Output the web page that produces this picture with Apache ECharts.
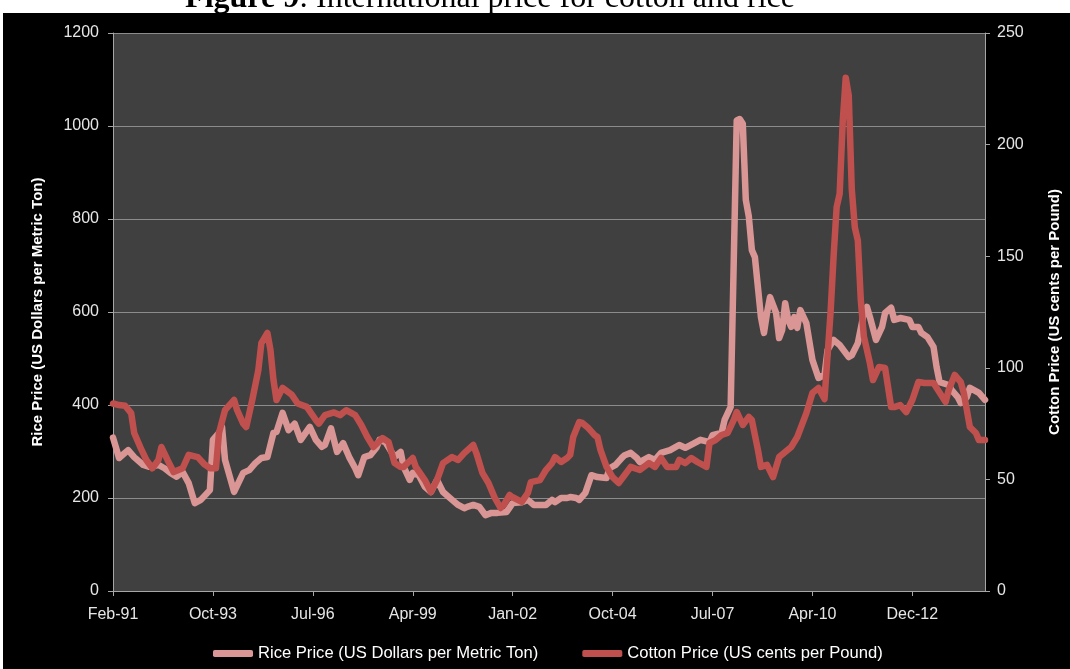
<!DOCTYPE html>
<html>
<head>
<meta charset="utf-8">
<title>International price for cotton and rice</title>
<script src="https://cdn.jsdelivr.net/npm/echarts@6/dist/echarts.min.js"></script>
<style>
  html, body { margin: 0; padding: 0; background: #fff; }
  #main { width: 1070px; height: 669px; }
</style>
</head>
<body>
<div id="main"></div>
<script>
// tick labels on the month axis, one every 33 months from Feb-91
var xTickLabels = ['Feb-91', 'Oct-93', 'Jul-96', 'Apr-99', 'Jan-02', 'Oct-04', 'Jul-07', 'Apr-10', 'Dec-12'];

// months counted from Feb-91, with the price
var riceMonths = [0, 2, 5, 7, 10, 12, 15, 17, 19, 21, 23, 25, 27, 29, 31, 32, 33, 35, 36, 37,
  40, 43, 45, 47, 49, 51, 53, 54, 56, 58, 60, 62, 65, 67, 69, 70, 72, 74, 76, 78,
  80, 81, 83, 85, 87, 88, 90, 93, 95, 96, 98, 99, 101, 103, 105, 107, 109, 112, 114, 116,
  117, 119, 121, 123, 125, 127, 130, 132, 135, 137, 139, 141, 143, 145, 146, 148, 150, 151, 153, 154,
  156, 158, 160, 163, 164, 166, 168, 169, 171, 173, 174, 177, 179, 181, 184, 187, 189, 192, 194, 197,
  198, 201, 202, 204, 206, 207, 208, 209, 210, 211, 212, 214, 215, 216, 217, 219, 220, 221, 222, 223,
  224, 225, 226, 227, 229, 231, 233, 235, 236, 238, 240, 243, 244, 246, 248, 249, 250, 252, 254, 255,
  257, 258, 260, 263, 264, 266, 267, 269, 271, 272, 273, 276, 277, 279, 280, 282, 283, 286, 288];
var riceValues = [330, 286, 303, 288, 271, 267, 271, 264, 254, 246, 256, 232, 189, 196, 210, 217, 325, 340, 353, 282,
  213, 254, 260, 275, 286, 288, 340, 342, 383, 346, 360, 325, 353, 325, 310, 314, 350, 299, 318, 288,
  264, 249, 288, 292, 308, 325, 320, 288, 299, 267, 239, 254, 249, 224, 213, 239, 213, 196, 185, 178,
  181, 185, 181, 163, 168, 168, 170, 189, 191, 196, 185, 185, 185, 196, 191, 200, 200, 202, 200, 196,
  211, 249, 245, 243, 264, 271, 286, 292, 297, 286, 277, 288, 282, 297, 303, 314, 308, 318, 325, 320,
  335, 340, 368, 396, 1012, 1015, 1005, 841, 805, 733, 718, 589, 555, 598, 632, 598, 544, 561, 619, 583,
  568, 589, 566, 604, 576, 497, 458, 465, 518, 540, 529, 503, 507, 533, 598, 611, 589, 540, 568, 598,
  609, 583, 587, 583, 568, 568, 555, 546, 525, 482, 449, 443, 432, 417, 404, 417, 437, 426, 411];

var cottonMonths = [0, 2, 4, 6, 7, 9, 11, 13, 15, 16, 18, 20, 23, 25, 28, 30, 32, 34, 35, 37,
  40, 41, 43, 44, 46, 48, 49, 51, 52, 53, 54, 56, 58, 59, 61, 64, 67, 68, 70, 73,
  75, 77, 80, 82, 84, 86, 89, 91, 93, 95, 96, 99, 100, 103, 105, 107, 109, 112, 114, 116,
  119, 120, 122, 124, 126, 128, 129, 131, 132, 135, 137, 138, 141, 143, 145, 146, 148, 150, 151, 152,
  154, 155, 157, 159, 160, 161, 163, 165, 167, 169, 171, 174, 177, 179, 181, 183, 186, 187, 189, 191,
  193, 196, 197, 199, 201, 203, 205, 206, 208, 210, 211, 213, 214, 216, 218, 220, 222, 224, 226, 229,
  231, 233, 235, 237, 238, 239, 240, 241, 242, 243, 244, 245, 246, 247, 248, 250, 251, 253, 255, 257,
  258, 260, 262, 264, 266, 268, 271, 272, 275, 276, 278, 280, 281, 283, 285, 286, 288];
var cottonValues = [84, 83.3, 83, 79.7, 70.8, 64.5, 58.7, 55, 58.7, 64.5, 58.7, 53.3, 55, 61, 60, 57, 55, 55, 70.8, 81,
  85.6, 81, 75, 73.5, 85.6, 99, 111, 115.6, 108, 94.5, 85.6, 91, 89, 88, 84, 82.5, 76.6, 75, 78.8, 80,
  78.8, 81, 78.8, 74.4, 69, 64.5, 68.5, 66.8, 57.3, 55.6, 55.6, 59.6, 55.6, 49.7, 44.4, 49.7, 57.3, 60, 58.7, 61.8,
  65.4, 61.8, 52.9, 48.4, 42, 37.2, 38.5, 43, 42, 39.9, 43.9, 48.8, 49.7, 54.2, 57.3, 60, 57.8, 59.6, 61, 69,
  75.7, 75.3, 73, 69.9, 69, 63.2, 55.6, 51, 48.4, 52, 55.6, 54.2, 57.3, 55.6, 59.6, 55.6, 55.6, 58.7, 57.3, 59.6,
  57.8, 55.6, 66.3, 67.6, 69.9, 70.8, 76.6, 80.2, 74.4, 78, 76.6, 63.2, 55.6, 56.5, 51, 60, 62.3, 64.5, 69, 79.7,
  88.7, 91, 86, 125, 150, 172, 178, 210, 230, 222, 180, 163, 157, 130, 114, 102, 94.5, 100.4, 99.9, 82.4,
  82.4, 83.3, 80.2, 85.6, 93.6, 93.2, 93.2, 91, 84.7, 90, 96.8, 93.6, 88.7, 73.5, 70.8, 67.6, 67.6];

var riceName = 'Rice Price (US Dollars per Metric Ton)';
var cottonName = 'Cotton Price (US cents per Pound)';

var chart = echarts.init(document.getElementById('main'));

var labelFont = 'Liberation Sans';
var axisGray = '#a6a6a6';

var option = {
  backgroundColor: '#000',
  animation: false,
  graphic: [
    { type: 'rect', left: 0, top: 0, z: 100, shape: { width: 1070, height: 13 }, style: { fill: '#fff' } },
    { type: 'rect', left: 0, top: 0, z: 100, shape: { width: 3, height: 669 }, style: { fill: '#fff' } },
    {
      type: 'text', x: 490, y: -1, z: 101,
      style: {
        text: '{b|Figure 9}: International price for cotton and rice',
        fontFamily: 'Liberation Serif', fontSize: 32, fill: '#000',
        align: 'center', verticalAlign: 'middle',
        rich: { b: { fontFamily: 'Liberation Serif', fontSize: 32, fontWeight: 'bold', fill: '#000' } }
      }
    }
  ],
  grid: { left: 113, right: 82, top: 33, bottom: 78, show: true, backgroundColor: '#404040', borderWidth: 0 },
  legend: {
    left: 213, top: 645, padding: 0,
    icon: 'roundRect', itemWidth: 40, itemHeight: 7, itemGap: 44,
    textStyle: { color: '#fff', fontSize: 16.6, fontFamily: labelFont },
    data: [riceName, cottonName]
  },
  xAxis: {
    type: 'value', min: 0, max: 288, interval: 33,
    axisLine: { show: true, lineStyle: { color: axisGray } },
    axisTick: { show: true, length: 5, lineStyle: { color: axisGray } },
    splitLine: { show: false },
    axisLabel: {
      color: '#e6e6e6', fontSize: 16, fontFamily: labelFont, margin: 16, showMaxLabel: false,
      formatter: function (v) { return v % 33 === 0 ? xTickLabels[v / 33] : ''; }
    }
  },
  yAxis: [
    {
      type: 'value', min: 0, max: 1200, interval: 200, position: 'left',
      name: riceName, nameLocation: 'middle', nameGap: 68, nameRotate: 90,
      nameTextStyle: { color: '#fff', fontSize: 15, fontWeight: 'bold', fontFamily: labelFont },
      axisLine: { show: true, lineStyle: { color: axisGray } },
      axisTick: { show: true, length: 5, lineStyle: { color: axisGray } },
      axisLabel: { color: '#e6e6e6', fontSize: 16, fontFamily: labelFont, margin: 14,
        formatter: function (v) { return String(v); } },
      splitLine: { show: true, lineStyle: { color: '#8c8c8c', width: 1 } }
    },
    {
      type: 'value', min: 0, max: 250, interval: 50, position: 'right',
      name: cottonName, nameLocation: 'middle', nameGap: 62, nameRotate: 90,
      nameTextStyle: { color: '#fff', fontSize: 15, fontWeight: 'bold', fontFamily: labelFont },
      axisLine: { show: true, lineStyle: { color: axisGray } },
      axisTick: { show: true, length: 5, lineStyle: { color: axisGray } },
      axisLabel: { color: '#e6e6e6', fontSize: 16, fontFamily: labelFont, margin: 12,
        formatter: function (v) { return String(v); } },
      splitLine: { show: false }
    }
  ],
  series: [
    {
      name: riceName, type: 'line', yAxisIndex: 0, symbol: 'none',
      itemStyle: { color: '#d99694' },
      lineStyle: { color: '#d99694', width: 6.5, cap: 'round', join: 'round' },
      data: riceMonths.map(function (m, i) { return [m, riceValues[i]]; })
    },
    {
      name: cottonName, type: 'line', yAxisIndex: 1, symbol: 'none',
      itemStyle: { color: '#c0504d' },
      lineStyle: { color: '#c0504d', width: 6.5, cap: 'round', join: 'round' },
      data: cottonMonths.map(function (m, i) { return [m, cottonValues[i]]; })
    }
  ]
};

chart.setOption(option);
</script>
</body>
</html>
